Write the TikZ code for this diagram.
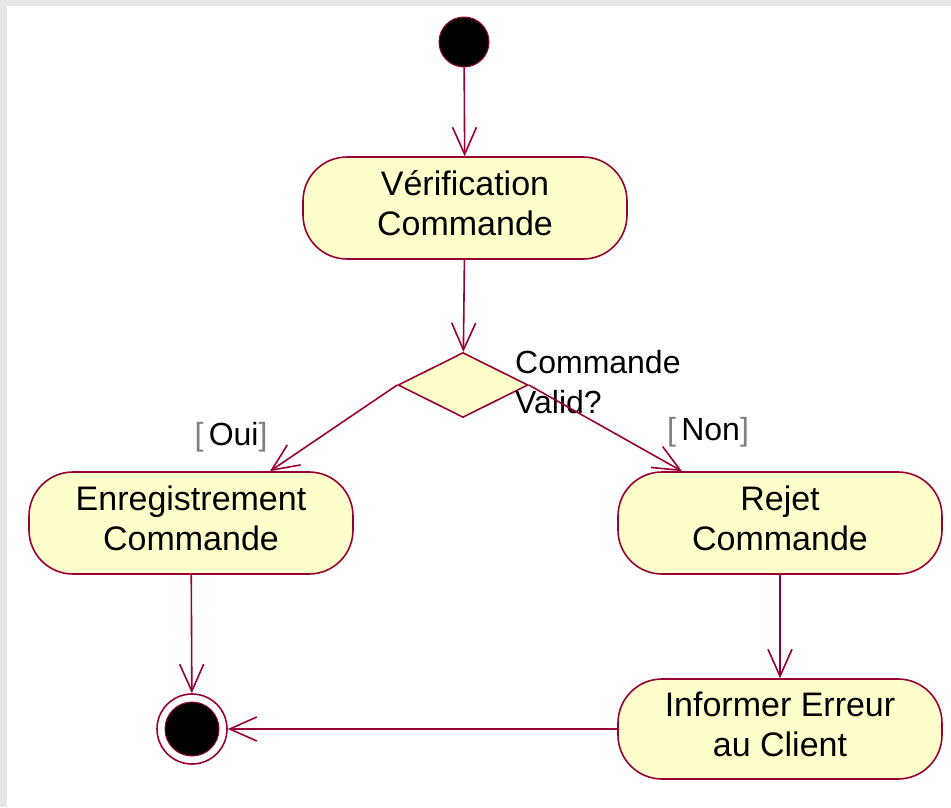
\documentclass[tikz,border=0pt]{standalone}
\usepackage{fontspec}
\setmainfont{Liberation Sans}
\usetikzlibrary{shapes.geometric,arrows.meta}
\definecolor{umlline}{HTML}{990033}
\definecolor{umlfill}{HTML}{FFFFCC}
\definecolor{bordergray}{HTML}{E6E6E6}
\tikzset{
  x=1pt, y=-1pt,
  act/.style={draw=umlline, fill=umlfill, line width=1.6pt, rounded corners=44pt,
    minimum width=324pt, minimum height=102pt, align=center,
    font=\fontsize{34pt}{40pt}\selectfont, inner sep=0pt, text depth=10pt},
  flow/.style={draw=umlline, line width=1.6pt,
    -{Straight Barb[length=27pt,width=24pt,line width=1.6pt]}},
  lbl/.style={font=\fontsize{32pt}{40pt}\selectfont, inner sep=0pt},
}
\begin{document}
\begin{tikzpicture}
\useasboundingbox (0,0) rectangle (951,807);
\fill[bordergray] (0,0) rectangle (951,807);
\fill[white] (7,6) rectangle (951,807);

\node[circle, fill=black, draw=umlline, line width=1pt, minimum size=50pt, inner sep=0pt] (init) at (464,42) {};
\node[act] (ver) at (465,208) {Vérification\\Commande};
\node[diamond, draw=umlline, fill=umlfill, line width=1.6pt, minimum width=130pt, minimum height=65pt, inner sep=0pt] (dec) at (463,385) {};
\node[lbl, anchor=west, align=left] (declbl) at (515,382) {Commande\\Valid?};
\node[act] (enr) at (191,523) {Enregistrement\\Commande};
\node[act] (rej) at (780,523) {Rejet\\Commande};
\node[act, minimum height=100pt] (inf) at (780,729) {Informer Erreur\\au Client};
\node[circle, draw=umlline, fill=white, line width=1.6pt, minimum size=70pt, inner sep=0pt] (fin) at (192,729) {};
\node[circle, fill=black, draw=umlline, line width=1pt, minimum size=54pt, inner sep=0pt] (fincore) at (fin.center) {};

\node[lbl] (oui) at (231,437) {{\color{gray}[}\,Oui{\color{gray}]}};
\node[lbl] (non) at (708,432) {{\color{gray}[}\,Non{\color{gray}]}};

\draw[flow] (init) -- (ver);
\draw[flow] (ver) -- (dec);
\draw[flow] (dec.west) -- ([xshift=79pt]enr.north);
\draw[flow] (dec.east) -- ([xshift=-98pt]rej.north);
\draw[flow] (enr) -- (fin);
\draw[flow] (rej) -- (inf);
\draw[flow] (inf.west) -- (fin.east);
\end{tikzpicture}
\end{document}
